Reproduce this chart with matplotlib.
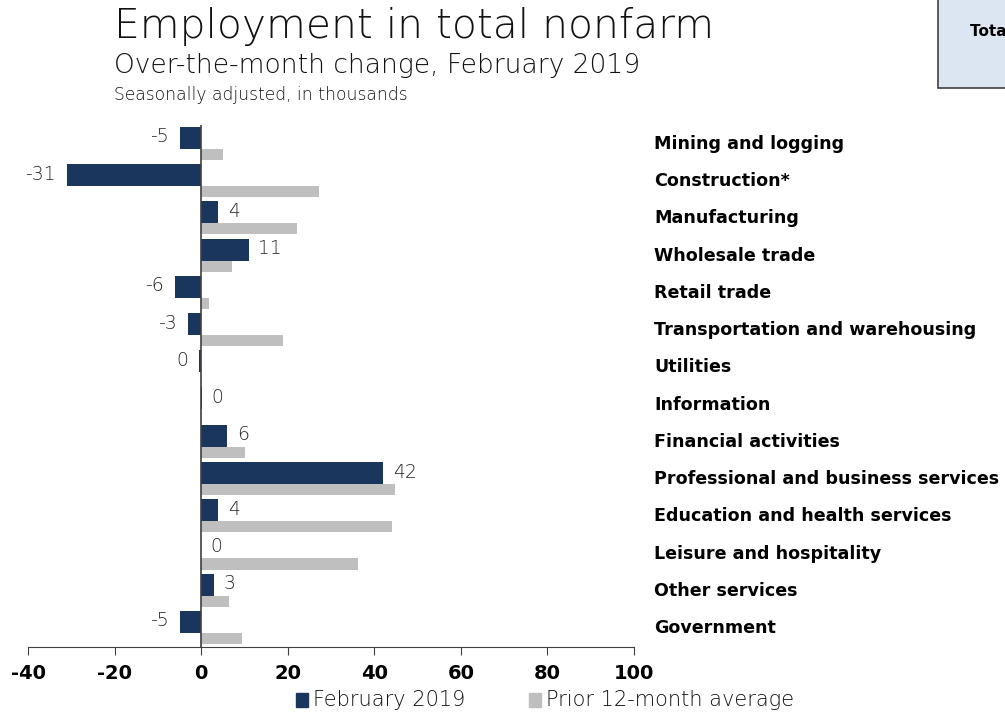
import matplotlib.pyplot as plt
from matplotlib.patches import Rectangle
from matplotlib.transforms import blended_transform_factory
import numpy as np

# industries, top to bottom
industries = [
    'Mining and logging', 'Construction*', 'Manufacturing', 'Wholesale trade',
    'Retail trade', 'Transportation and warehousing', 'Utilities', 'Information',
    'Financial activities', 'Professional and business services',
    'Education and health services', 'Leisure and hospitality',
    'Other services', 'Government',
]
feb_2019 = [-5, -31, 4, 11, -6, -3, -0.4, 0.1, 6, 42, 4, 0, 3, -5]
prior_avg = [5, 27.3, 22.2, 7.2, 1.9, 18.8, 0, 0, 10.2, 44.9, 44.2, 36.3, 6.5, 9.4]
xticks = [-40, -20, 0, 20, 40, 60, 80, 100]

navy = '#1b365d'
grey = '#bfbfbf'
thin = dict(family='DejaVu Sans', fontweight=200)

fig = plt.figure(figsize=(10.05, 7.15), dpi=100)
ax = fig.add_axes([28 / 1005, 0.0951, 606 / 1005, 0.7301])

y = np.arange(len(industries))
ax.barh(y - 0.135, feb_2019, height=0.59, color=navy, zorder=2)
ax.barh(y + 0.31, prior_avg, height=0.30, color=grey, zorder=2)

# value labels next to the February bars
for yi, v in zip(y, feb_2019):
    txt = str(int(round(v)) + 0)
    if v < 0:
        ax.annotate(txt, (v, yi - 0.16), xytext=(-8, 0), textcoords='offset points',
                    ha='right', va='center', fontsize=13.5, color='#262626', **thin)
    else:
        ax.annotate(txt, (v, yi - 0.16), xytext=(7, 0), textcoords='offset points',
                    ha='left', va='center', fontsize=13.5, color='#262626', **thin)

# category names to the right of the plot
name_tr = blended_transform_factory(fig.transFigure, ax.transData)
for yi, name in zip(y, industries):
    ax.text(654 / 1005, yi + 0.03, name, transform=name_tr, clip_on=False,
            fontsize=12.6, fontweight='bold', va='center', ha='left')

ax.set_xlim(-40, 100)
ax.set_ylim(13.54, -0.48)
ax.axvline(0, color='#404040', lw=1.2, zorder=3)
for s in ['top', 'right', 'left']:
    ax.spines[s].set_visible(False)
ax.spines['bottom'].set_color('#404040')
ax.set_yticks([])
ax.set_xticks(xticks)
ax.set_xticklabels([str(t) for t in xticks], fontsize=14, fontweight='bold')
ax.tick_params(axis='x', length=6, color='#404040', pad=6)

fig.text(114 / 1005, 1 - 27 / 715, 'Employment in total nonfarm', fontsize=29.3,
         va='center', color='#111111', **thin)
fig.text(114 / 1005, 1 - 65 / 715, 'Over-the-month change, February 2019', fontsize=19.1,
         va='center', color='#111111', **thin)
fig.text(114 / 1005, 1 - 95 / 715, 'Seasonally adjusted, in thousands', fontsize=12.3,
         va='center', color='#111111', **thin)

# legend
fig.patches.append(Rectangle((296 / 1005, 1 - 707 / 715), 12 / 1005, 14 / 715,
                             transform=fig.transFigure, color=navy))
fig.text(313 / 1005, 1 - 700 / 715, 'February 2019', fontsize=15, va='center',
         color='#111111', **thin)
fig.patches.append(Rectangle((529 / 1005, 1 - 707 / 715), 12 / 1005, 14 / 715,
                             transform=fig.transFigure, color=grey))
fig.text(546 / 1005, 1 - 700 / 715, 'Prior 12-month average', fontsize=15, va='center',
         color='#111111', **thin)

# total nonfarm box in the corner
fig.patches.append(Rectangle((938 / 1005, 1 - 88 / 715), 0.2, 0.2,
                             transform=fig.transFigure, facecolor='#dce6f2',
                             edgecolor='#404040', lw=1.2))
fig.text(970 / 1005, 1 - 32 / 715, 'Total nonfarm', fontsize=11, fontweight='bold',
         va='center', ha='left')

fig.savefig('out.png', dpi=100)
